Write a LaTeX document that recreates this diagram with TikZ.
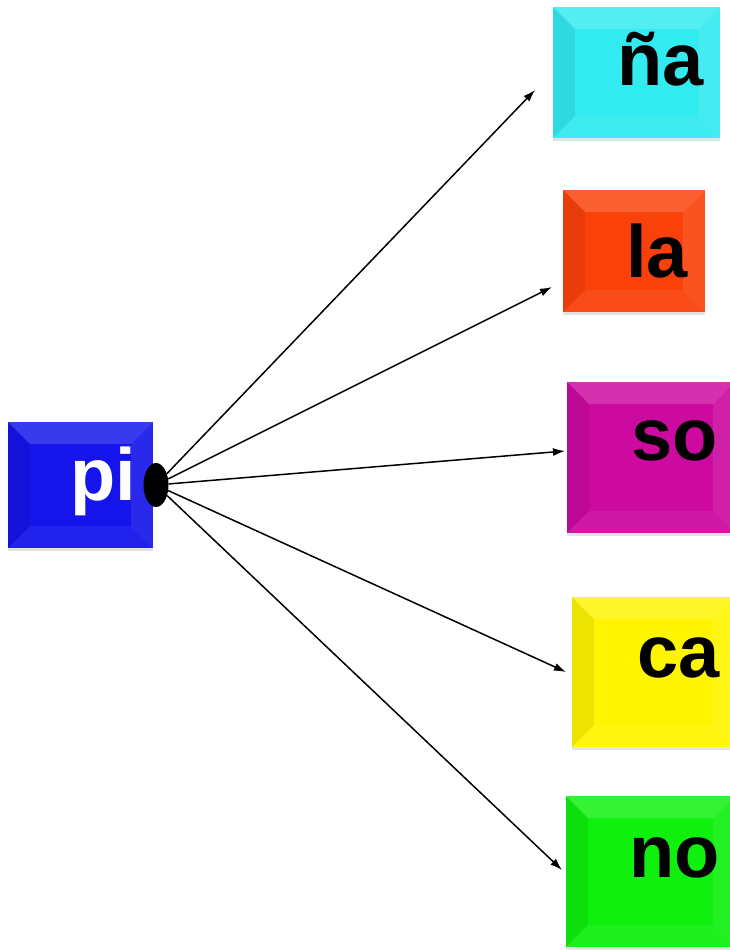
\documentclass[tikz,border=0pt]{standalone}
\usepackage{fontspec}
\setmainfont{Liberation Sans}
\usetikzlibrary{arrows.meta,shadows,shapes.geometric}
\definecolor{piblue}{RGB}{20,20,235}
\definecolor{nacyan}{RGB}{50,235,240}
\definecolor{lared}{RGB}{250,65,10}
\definecolor{somag}{RGB}{205,10,160}
\definecolor{cayel}{RGB}{255,245,0}
\definecolor{nogreen}{RGB}{15,240,15}
\tikzset{
  bevel/.style = {path picture={
      \coordinate (nw) at (path picture bounding box.north west);
      \coordinate (ne) at (path picture bounding box.north east);
      \coordinate (sw) at (path picture bounding box.south west);
      \coordinate (se) at (path picture bounding box.south east);
      \fill[white, opacity=.16] (nw) -- (ne) -- ([xshift=-22bp,yshift=-22bp]ne)
            -- ([xshift=22bp,yshift=-22bp]nw) -- cycle;
      \fill[black, opacity=.07] (nw) -- (sw) -- ([xshift=22bp,yshift=22bp]sw)
            -- ([xshift=22bp,yshift=-22bp]nw) -- cycle;
      \fill[white, opacity=.06] (sw) -- (se) -- ([xshift=-22bp,yshift=22bp]se)
            -- ([xshift=22bp,yshift=22bp]sw) -- cycle;
      \fill[white, opacity=.09] (ne) -- (se) -- ([xshift=-22bp,yshift=22bp]se)
            -- ([xshift=-22bp,yshift=-22bp]ne) -- cycle;
    }},
  tile/.style  = {rectangle, inner sep=0pt, draw=none, bevel,
                  drop shadow={shadow xshift=0bp, shadow yshift=-3bp,
                               opacity=.18, fill=black!60}},
  word/.style  = {anchor=base east, inner sep=0pt,
                  font=\fontsize{74bp}{80bp}\selectfont\bfseries},
  dot/.style   = {ellipse, fill=black, draw=none, minimum width=25bp,
                  minimum height=44bp, inner sep=0pt},
  flow/.style  = {-{Latex[length=12bp,width=8bp]}, line width=1.5bp},
}
\begin{document}
\begin{tikzpicture}[x=1bp, y=-1bp]
      \useasboundingbox (0,0) rectangle (730,950);
      \clip (0,0) rectangle (730,950);
      \fill[white] (0,0) rectangle (730,950);

      \node[tile, fill=piblue,  minimum width=145bp, minimum height=126bp] (pi) at (80.5,485)   {};
      \node[tile, fill=nacyan,  minimum width=167bp, minimum height=131bp] (na) at (636.5,72.5) {};
      \node[tile, fill=lared,   minimum width=142bp, minimum height=122bp] (la) at (634,251)    {};
      \node[tile, fill=somag,   minimum width=168bp, minimum height=151bp] (so) at (651,457.5)  {};
      \node[tile, fill=cayel,   minimum width=163bp, minimum height=150bp] (ca) at (653.5,672)  {};
      \node[tile, fill=nogreen, minimum width=169bp, minimum height=151bp] (no) at (650.5,871.5) {};

      \node[word, text=white] (pi-t) at (136,500) {pi};
      \node[word] (na-t) at (704,85)  {ña};
      \node[word] (la-t) at (688,277) {la};
      \node[word] (so-t) at (718,460) {so};
      \node[word] (ca-t) at (720,677) {ca};
      \node[word] (no-t) at (720,877) {no};

      \node[dot] (hub) at (156,485) {};

      \coordinate (na-in) at (535,90);
      \coordinate (la-in) at (552,287);
      \coordinate (so-in) at (565,451);
      \coordinate (ca-in) at (566,672);
      \coordinate (no-in) at (562,870);

      \draw[flow] (hub) -- (na-in);
      \draw[flow] (hub) -- (la-in);
      \draw[flow] (hub) -- (so-in);
      \draw[flow] (hub) -- (ca-in);
      \draw[flow] (hub) -- (no-in);
    \end{tikzpicture}
\end{document}
